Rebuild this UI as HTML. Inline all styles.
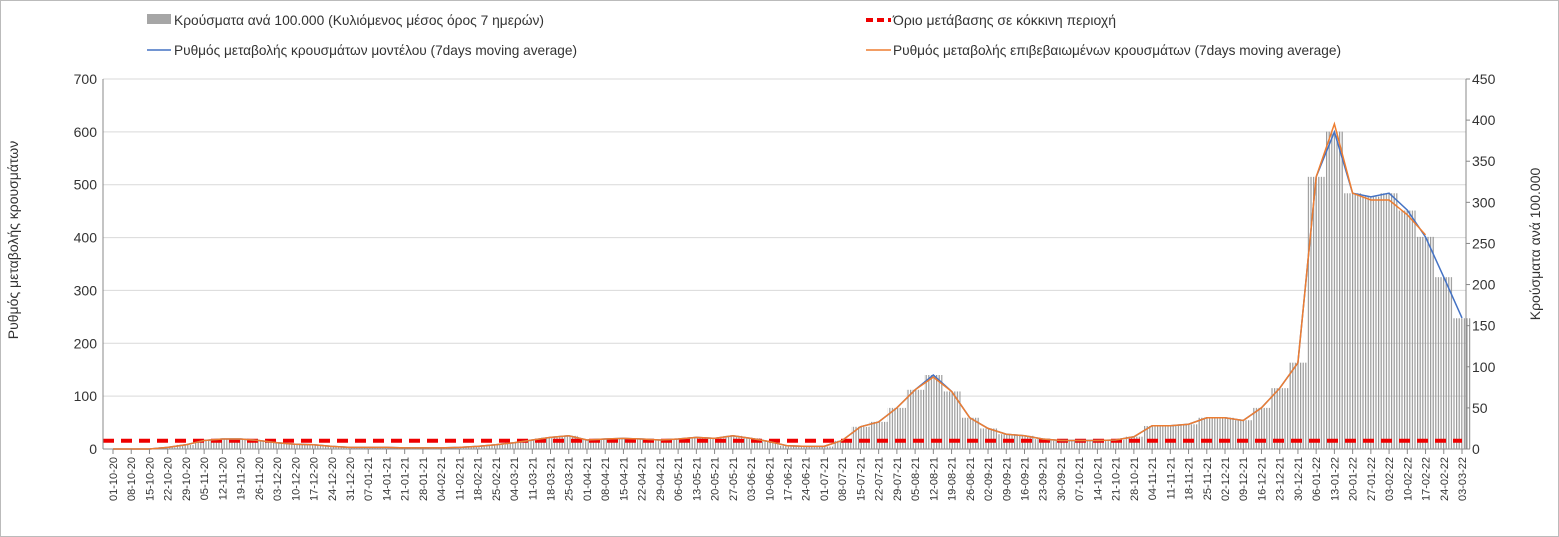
<!DOCTYPE html>
<html><head><meta charset="utf-8"><style>
body{margin:0;background:#fff}
svg{display:block;font-family:"Liberation Sans","DejaVu Sans",sans-serif}
</style></head><body>
<svg id="chart" width="1559" height="537" viewBox="0 0 1559 537">
<defs><pattern id="stripes" width="2.6" height="10" patternUnits="userSpaceOnUse"><rect width="1.2" height="10" fill="#9a9a9a"/></pattern></defs>
<rect x="0.5" y="0.5" width="1558" height="536" fill="#fff" stroke="#bbb"/>
<g font-size="14" fill="#333">
<rect x="147" y="14" width="24" height="10" fill="#a6a6a6"/>
<text x="174" y="25" textLength="370" lengthAdjust="spacingAndGlyphs">Κρούσματα ανά 100.000 (Κυλιόμενος μέσος όρος 7 ημερών)</text>
<line x1="147" y1="50" x2="171" y2="50" stroke="#4472c4" stroke-width="1.5"/>
<text x="174" y="55" textLength="403" lengthAdjust="spacingAndGlyphs">Ρυθμός μεταβολής κρουσμάτων μοντέλου (7days moving average)</text>
<line x1="866" y1="20" x2="891" y2="20" stroke="#e00" stroke-width="4" stroke-dasharray="7,4"/>
<text x="893" y="25" textLength="223" lengthAdjust="spacingAndGlyphs">Όριο μετάβασης σε κόκκινη περιοχή</text>
<line x1="866" y1="50" x2="891" y2="50" stroke="#ed7d31" stroke-width="1.5"/>
<text x="893" y="55" textLength="448" lengthAdjust="spacingAndGlyphs">Ρυθμός μεταβολής επιβεβαιωμένων κρουσμάτων (7days moving average)</text>
</g>
<text transform="translate(18,240) rotate(-90)" text-anchor="middle" font-size="14" fill="#333">Ρυθμός μεταβολής κρουσμάτων</text>
<text transform="translate(1540,244) rotate(-90)" text-anchor="middle" font-size="14" fill="#333">Κρούσματα ανά 100.000</text>
<g id="grid"></g><g id="bars"></g><g id="lines"></g><g id="axes"></g>
</svg>
<script>
const dates=["01-10-20","08-10-20","15-10-20","22-10-20","29-10-20","05-11-20","12-11-20","19-11-20","26-11-20","03-12-20","10-12-20","17-12-20","24-12-20","31-12-20","07-01-21","14-01-21","21-01-21","28-01-21","04-02-21","11-02-21","18-02-21","25-02-21","04-03-21","11-03-21","18-03-21","25-03-21","01-04-21","08-04-21","15-04-21","22-04-21","29-04-21","06-05-21","13-05-21","20-05-21","27-05-21","03-06-21","10-06-21","17-06-21","24-06-21","01-07-21","08-07-21","15-07-21","22-07-21","29-07-21","05-08-21","12-08-21","19-08-21","26-08-21","02-09-21","09-09-21","16-09-21","23-09-21","30-09-21","07-10-21","14-10-21","21-10-21","28-10-21","04-11-21","11-11-21","18-11-21","25-11-21","02-12-21","09-12-21","16-12-21","23-12-21","30-12-21","06-01-22","13-01-22","20-01-22","27-01-22","03-02-22","10-02-22","17-02-22","24-02-22","03-03-22"];
const casesPer100k=[0,0,0,2,5,10,12,12,10,8,6,5,3,2,2,2,1,1,1,2,3,5,8,11,14,16,11,12,13,12,11,12,14,13,16,13,9,4,3,3,10,27,33,50,72,90,70,38,25,18,16,12,10,10,10,11,15,28,28,30,38,38,35,50,74,105,331,386,311,307,311,290,258,209,159];
const modelRate=[0,0,0,3,8,16,19,19,16,12,9,8,5,3,3,3,2,2,2,3,5,8,12,17,22,25,17,19,20,19,17,19,22,20,25,20,14,6,5,5,16,42,51,78,112,140,109,59,39,28,25,19,16,16,16,17,23,44,44,47,59,59,54,78,115,163,515,600,484,477,484,452,401,325,248];
const confirmedRate=[0,0,0,3,8,16,19,19,16,12,9,8,5,3,3,3,2,2,2,3,5,8,12,17,22,25,17,19,20,19,17,19,22,20,25,20,14,6,5,5,16,42,51,78,112,136,109,59,39,28,25,19,16,16,16,17,23,44,44,47,59,59,54,78,115,163,515,615,484,471,471,443,405,null,null];
const threshold=10;
const leftTicks=[0,100,200,300,400,500,600,700];
const rightTicks=[0,50,100,150,200,250,300,350,400,450];
const X0=113,X1=1462,Y0=449,Y1=79,PL=103,PR=1466;
const NS="http://www.w3.org/2000/svg";
const xs=i=>X0+i*(X1-X0)/(dates.length-1);
const yL=v=>Y0-v/700*(Y0-Y1);
const yR=v=>Y0-v/450*(Y0-Y1);
function mk(tag,attrs,parent){const e=document.createElementNS(NS,tag);for(const k in attrs)e.setAttribute(k,attrs[k]);document.getElementById(parent).appendChild(e);return e;}
leftTicks.forEach(v=>{
 const g=mk('line',{x1:PL,x2:PR,y1:yL(v),y2:yL(v),stroke:v?'#d9d9d9':'#888'},'grid');
 
 
 const t=mk('text',{x:PL-6,y:yL(v)+5,'text-anchor':'end','font-size':14,fill:'#333'},'axes');t.textContent=v;
 
 
});
rightTicks.forEach(v=>{
 const t=mk('text',{x:PR+6,y:yR(v)+5,'font-size':14,fill:'#333'},'axes');t.textContent=v;
 
 
 const k=mk('line',{x1:PR,x2:PR+4,y1:yR(v),y2:yR(v),stroke:'#888'},'axes');
 
 
});
[PL,PR].forEach(x=>{const a=mk('line',{x1:x,x2:x,y1:Y1,y2:Y0,stroke:'#888'},'axes');
 
 });
const w=(X1-X0)/(dates.length-1);
dates.forEach((d,i)=>{
 const x=xs(i);
 const b=mk('rect',{x:x-w/2,y:yR(casesPer100k[i]),width:w,height:Y0-yR(casesPer100k[i]),fill:'url(#stripes)'},'bars');
 
 
 const tk=mk('line',{x1:x,x2:x,y1:Y0,y2:Y0+5,stroke:'#888'},'axes');
 
 
 const t=mk('text',{transform:`translate(${x+4},${Y0+8}) rotate(-90)`,'text-anchor':'end','font-size':11,fill:'#333'},'axes');t.textContent=d;
 
 
});
function path(arr,scale){let d='',s=false;arr.forEach((v,i)=>{if(v==null){s=false;return;}d+=(s?'L':'M')+xs(i).toFixed(1)+','+scale(v).toFixed(1);s=true;});return d;}
const th=mk('line',{x1:PL,x2:X1,y1:yR(threshold),y2:yR(threshold),stroke:'#e00','stroke-width':4,'stroke-dasharray':'11,7'},'lines');


const lb=mk('path',{d:path(modelRate,yL),fill:'none',stroke:'#4472c4','stroke-width':1.5},'lines');


const lo=mk('path',{d:path(confirmedRate,yL),fill:'none',stroke:'#ed7d31','stroke-width':1.5},'lines');


</script>
</body></html>
